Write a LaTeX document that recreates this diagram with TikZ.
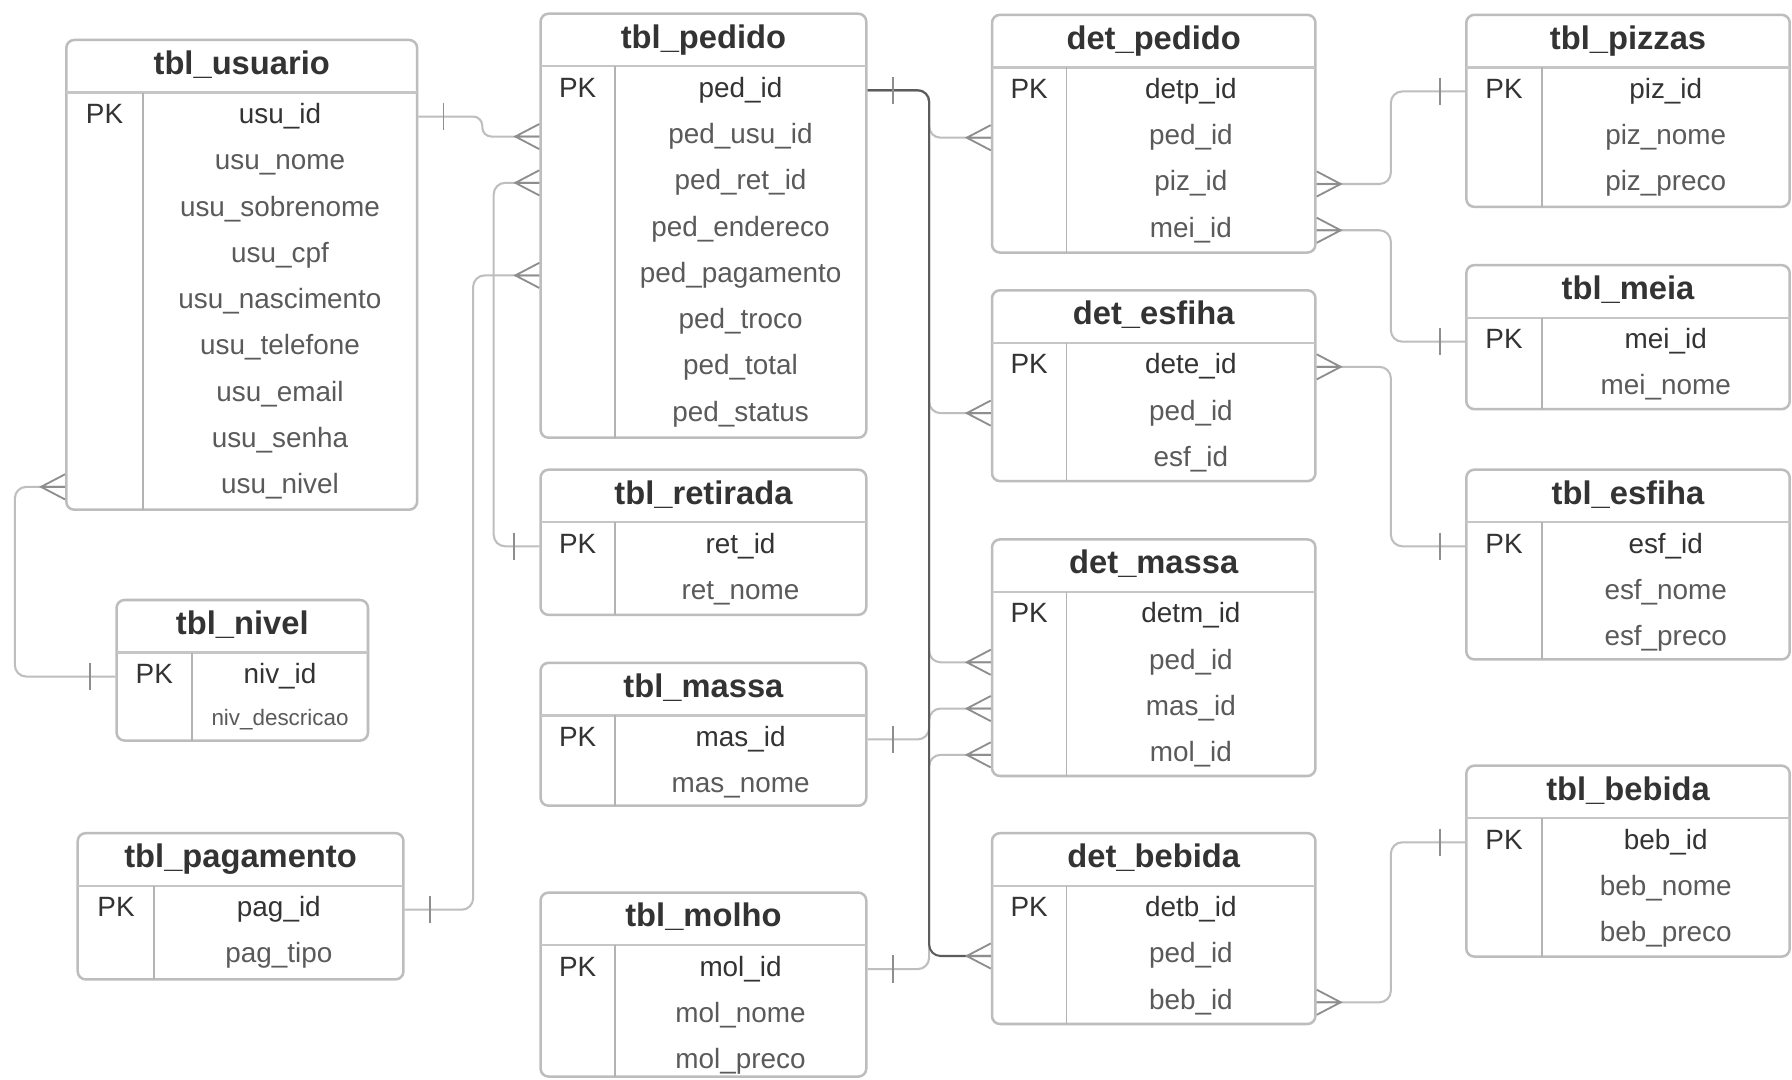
\documentclass[tikz,border=0pt]{standalone}
\usepackage{fontspec}
\setmainfont{Liberation Sans}
\usetikzlibrary{fit}

\definecolor{boxline}{HTML}{BDBDBD}
\definecolor{sepgray}{HTML}{C6C6C6}
\definecolor{colgray}{HTML}{B3B3B3}
\definecolor{inkdark}{HTML}{333333}
\definecolor{inkmid}{HTML}{5A5A5A}
\definecolor{linkgray}{HTML}{BEBEBE}
\definecolor{linkdark}{HTML}{5C5C5C}
\definecolor{markgray}{HTML}{8E8E8E}

\tikzset{
  tablebox/.style={draw=boxline, fill=white, line width=1.1pt, rounded corners=3.5pt, inner sep=0pt},
  sepline/.style={draw=sepgray, line width=1pt},
  colline/.style={draw=colgray, line width=0.7pt},
  celltext/.style={inner sep=0pt, text height=0.72em, text depth=0.21em},
  titletext/.style={celltext, font=\fontsize{14.3}{16}\selectfont\bfseries, text=inkdark},
  keytext/.style={celltext, font=\fontsize{12.2}{14}\selectfont, text=inkdark},
  fieldtext/.style={celltext, font=\fontsize{12.2}{14}\selectfont, text=inkmid},
  smalltext/.style={celltext, font=\fontsize{9.8}{11}\selectfont, text=inkmid},
  link/.style={draw=linkgray, line width=0.9pt, rounded corners=5pt},
  darklink/.style={draw=linkdark, line width=0.9pt, rounded corners=5pt},
  markline/.style={draw=markgray, line width=0.8pt},
  % many-side mark, drawn for a box edge on its right
  crowfoot/.pic={\draw[markline] (0,-11) -- (-21,0) -- (0,11) (-21,0) -- (0,0);},
  % one-side mark, drawn for a box edge on its right
  onebar/.pic={\draw[markline] (-22,-12) -- (-22,12);},
}

% \ertab{name}{left}{top}{right}{bottom}{column x}{title}{fields, key first}
\newcommand\ertab[8]{%
  \coordinate (#1-nw) at (#2,#3);
  \coordinate (#1-se) at (#4,#5);
  \node[tablebox, fit=(#1-nw)(#1-se)] (#1) {};
  \draw[sepline] (#2,#3+46) -- (#4,#3+46);
  \draw[colline] (#6,#3+46) -- (#6,#5);
  \node[titletext] (#1-t) at ({(#2+#4)/2},#3+25) {#7};
  \node[keytext] (#1-pk) at ({(#2+#6)/2},#3+68) {PK};
  \foreach \f [count=\i] in {#8} {
    \ifnum\i=1
      \node[keytext] (#1-r\i) at ({(#6+#4)/2},{#3+68+(\i-1)*40.5}) {\f};
    \else
      \node[fieldtext] (#1-r\i) at ({(#6+#4)/2},{#3+68+(\i-1)*40.5}) {\f};
    \fi
    \coordinate (#1-p\i) at (#6,{#3+67+(\i-1)*40.5});
  }
}

\begin{document}
\begin{tikzpicture}[x=0.5pt, y=-0.5pt]
\useasboundingbox (0,0) rectangle (1568,945);
\fill[white] (0,0) rectangle (1568,945);

% ---- tables ----
\ertab{usuario}{58}{35}{365}{446}{125}{tbl\_usuario}{usu\_id,usu\_nome,usu\_sobrenome,usu\_cpf,usu\_nascimento,usu\_telefone,usu\_email,usu\_senha,usu\_nivel}
\ertab{nivel}{102}{525}{322}{648}{168}{tbl\_nivel}{niv\_id}
\node[smalltext] (nivel-r2) at ({(168+322)/2},630) {niv\_descricao};
\ertab{pagamento}{68}{729}{353}{857}{135}{tbl\_pagamento}{pag\_id,pag\_tipo}

\ertab{pedido}{473}{12}{758}{383}{538}{tbl\_pedido}{ped\_id,ped\_usu\_id,ped\_ret\_id,ped\_endereco,ped\_pagamento,ped\_troco,ped\_total,ped\_status}
\ertab{retirada}{473}{411}{758}{538}{538}{tbl\_retirada}{ret\_id,ret\_nome}
\ertab{massa}{473}{580}{758}{705}{538}{tbl\_massa}{mas\_id,mas\_nome}
\ertab{molho}{473}{781}{758}{942}{538}{tbl\_molho}{mol\_id,mol\_nome,mol\_preco}

\ertab{detpedido}{868}{13}{1151}{221}{933}{det\_pedido}{detp\_id,ped\_id,piz\_id,mei\_id}
\ertab{detesfiha}{868}{254}{1151}{421}{933}{det\_esfiha}{dete\_id,ped\_id,esf\_id}
\ertab{detmassa}{868}{472}{1151}{679}{933}{det\_massa}{detm\_id,ped\_id,mas\_id,mol\_id}
\ertab{detbebida}{868}{729}{1151}{896}{933}{det\_bebida}{detb\_id,ped\_id,beb\_id}

\ertab{pizzas}{1283}{13}{1566}{181}{1349}{tbl\_pizzas}{piz\_id,piz\_nome,piz\_preco}
\ertab{meia}{1283}{232}{1566}{358}{1349}{tbl\_meia}{mei\_id,mei\_nome}
\ertab{esfiha}{1283}{411}{1566}{577}{1349}{tbl\_esfiha}{esf\_id,esf\_nome,esf\_preco}
\ertab{bebida}{1283}{670}{1566}{837}{1349}{tbl\_bebida}{beb\_id,beb\_nome,beb\_preco}

% ---- routing lanes ----
\coordinate (nivlane) at (13,0);
\coordinate (paglane) at (414,0);
\coordinate (jog) at (422,0);
\coordinate (retlane) at (432,0);
\coordinate (trunk) at (813,0);
\coordinate (rtrunk) at (1217,0);

% ---- relationships ----
\draw[link, rounded corners=4pt] (usuario.east |- usuario-p1) -- (jog |- usuario-p1) |- (pedido.west |- pedido-p2);
\draw[link] (pedido.west |- pedido-p3) -- (retlane |- pedido-p3) |- (retirada.west |- retirada-p1);
\draw[link] (pedido.west |- pedido-p5) -- (paglane |- pedido-p5) |- (pagamento.east |- pagamento-p1);
\draw[link] (usuario.west |- usuario-p9) -- (nivlane |- usuario-p9) |- (nivel.west |- nivel-p1);

\draw[link] (pedido.east |- pedido-p1) -- (trunk |- pedido-p1) |- (detpedido.west |- detpedido-p2);
\draw[link] (pedido.east |- pedido-p1) -- (trunk |- pedido-p1) |- (detesfiha.west |- detesfiha-p2);
\draw[link] (pedido.east |- pedido-p1) -- (trunk |- pedido-p1) |- (detmassa.west |- detmassa-p2);
\draw[link] (massa.east |- massa-p1) -- (trunk |- massa-p1) |- (detmassa.west |- detmassa-p3);
\draw[link] (molho.east |- molho-p1) -- (trunk |- molho-p1) |- (detmassa.west |- detmassa-p4);
\draw[darklink] (pedido.east |- pedido-p1) -- (trunk |- pedido-p1) |- (detbebida.west |- detbebida-p2);

\draw[link] (detpedido.east |- detpedido-p3) -- (rtrunk |- detpedido-p3) |- (pizzas.west |- pizzas-p1);
\draw[link] (detpedido.east |- detpedido-p4) -- (rtrunk |- detpedido-p4) |- (meia.west |- meia-p1);
\draw[link] (detesfiha.east |- detesfiha-p1) -- (rtrunk |- detesfiha-p1) |- (esfiha.west |- esfiha-p1);
\draw[link] (detbebida.east |- detbebida-p3) -- (rtrunk |- detbebida-p3) |- (bebida.west |- bebida-p1);

% ---- cardinality marks ----
\pic at (pedido.west |- pedido-p2) {crowfoot};
\pic at (pedido.west |- pedido-p3) {crowfoot};
\pic at (pedido.west |- pedido-p5) {crowfoot};
\pic at (usuario.west |- usuario-p9) {crowfoot};
\pic at (detpedido.west |- detpedido-p2) {crowfoot};
\pic at (detesfiha.west |- detesfiha-p2) {crowfoot};
\pic at (detmassa.west |- detmassa-p2) {crowfoot};
\pic at (detmassa.west |- detmassa-p3) {crowfoot};
\pic at (detmassa.west |- detmassa-p4) {crowfoot};
\pic at (detbebida.west |- detbebida-p2) {crowfoot};
\pic[xscale=-1] at (detpedido.east |- detpedido-p3) {crowfoot};
\pic[xscale=-1] at (detpedido.east |- detpedido-p4) {crowfoot};
\pic[xscale=-1] at (detesfiha.east |- detesfiha-p1) {crowfoot};
\pic[xscale=-1] at (detbebida.east |- detbebida-p3) {crowfoot};

\pic[xscale=-1] at (usuario.east |- usuario-p1) {onebar};
\pic at (retirada.west |- retirada-p1) {onebar};
\pic[xscale=-1] at (pagamento.east |- pagamento-p1) {onebar};
\pic at (nivel.west |- nivel-p1) {onebar};
\pic[xscale=-1] at (pedido.east |- pedido-p1) {onebar};
\pic[xscale=-1] at (massa.east |- massa-p1) {onebar};
\pic[xscale=-1] at (molho.east |- molho-p1) {onebar};
\pic at (pizzas.west |- pizzas-p1) {onebar};
\pic at (meia.west |- meia-p1) {onebar};
\pic at (esfiha.west |- esfiha-p1) {onebar};
\pic at (bebida.west |- bebida-p1) {onebar};
\end{tikzpicture}
\end{document}
